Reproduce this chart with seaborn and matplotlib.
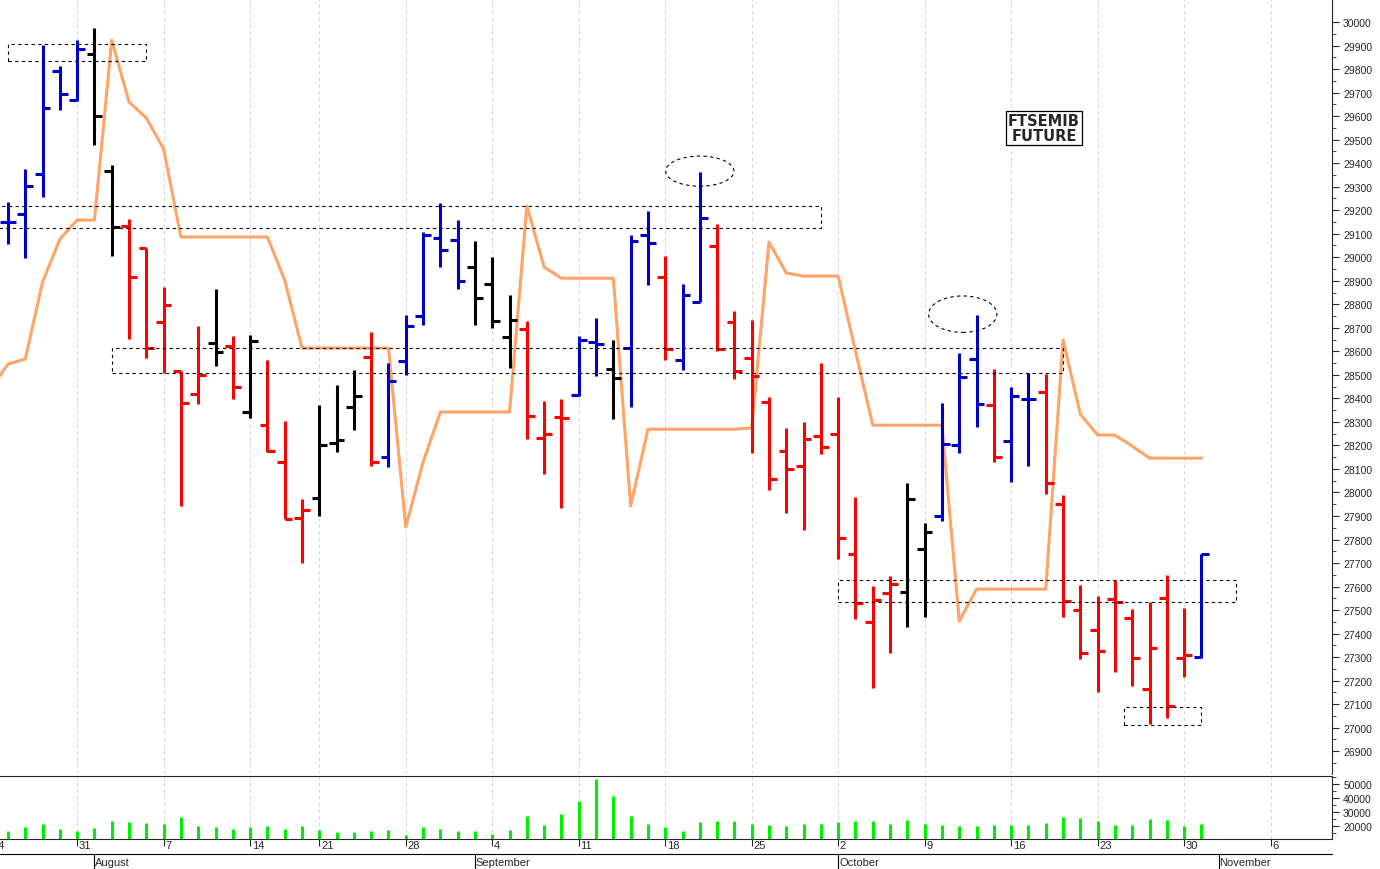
import numpy as np
import pandas as pd
import matplotlib
matplotlib.use("Agg")
import matplotlib.pyplot as plt
import seaborn as sns
from matplotlib.patches import Rectangle, Ellipse

# OHLC values (one bar per trading day, Jul 25 - Oct 31)
opens = [29150, 29184, 29354, 29792, 29668, 29864, 29366, 29133, 29039, 28724,
         28516, 28418, 28635, 28622, 28342, 28286, 28129, 27891, 27976, 28210,
         28363, 28576, 28150, 28559, 28750, 29082, 29073, 28958, 28886, 28661,
         28695, 28231, 28320, 28414, 28639, 28525, 28614, 29094, 28916, 28563,
         28809, 29048, 28724, 28571, 28384, 28176, 28112, 28240, 28248, 27738,
         27449, 27572, 27576, 27759, 27900, 28201, 28567, 28371, 28218, 28397,
         28427, 27951, 27500, 27415, 27547, 27466, 27164, 27551, 27296, 27300]
highs = [29235, 29375, 29902, 29813, 29923, 29974, 29392, 29162, 29039, 28873,
         28516, 28707, 28865, 28665, 28669, 28563, 28303, 27972, 28371, 28457,
         28520, 28682, 28550, 28754, 29107, 29230, 29158, 29069, 29001, 28839,
         28729, 28388, 28397, 28665, 28741, 28648, 29094, 29196, 29005, 28886,
         29362, 29141, 28771, 28733, 28406, 28274, 28299, 28550, 28406, 27980,
         27602, 27644, 28040, 27870, 28380, 28593, 28754, 28525, 28448, 28508,
         28503, 27989, 27606, 27559, 27627, 27504, 27534, 27649, 27508, 27738]
lows = [29056, 28997, 29256, 29626, 29664, 29477, 29005, 28652, 28571, 28508,
        27942, 28376, 28537, 28397, 28316, 28172, 27887, 27700, 27900, 28172,
        28265, 28112, 28108, 28499, 28712, 28958, 28865, 28712, 28699, 28529,
        28227, 28078, 27934, 28410, 28495, 28312, 28363, 28882, 28563, 28520,
        28809, 28601, 28482, 28167, 28010, 27912, 27840, 28163, 27717, 27462,
        27168, 27317, 27428, 27470, 27878, 28167, 28278, 28129, 28044, 28112,
        27993, 27470, 27291, 27151, 27236, 27177, 27015, 27041, 27215, 27296]
closes = [29150, 29303, 29634, 29694, 29885, 29600, 29128, 28916, 28614, 28797,
          28380, 28499, 28597, 28448, 28644, 28176, 27887, 27925, 28201, 28223,
          28410, 28129, 28474, 28707, 29094, 29031, 28899, 28826, 28729, 28733,
          28325, 28248, 28316, 28648, 28631, 28486, 29069, 29060, 28610, 28839,
          29167, 28610, 28516, 28495, 28057, 28099, 28227, 28193, 27806, 27530,
          27542, 27610, 27972, 27831, 28206, 28491, 28376, 28150, 28410, 28397,
          28040, 27538, 27317, 27325, 27534, 27296, 27338, 27092, 27308, 27738]
bar_colors = list("BBBBBKKRRRRRKRKRRRKKKRBBBBBKKKRRRBBKBBRBBRRRRRRRRRRRKKBBBRBBRRRRRRRRRB")

# orange indicator line (first value is the day before the first bar)
indicator = [28440, 28546, 28567, 28894, 29077, 29158, 29158, 29923, 29660, 29592,
             29460, 29086, 29086, 29086, 29086, 29086, 29086, 28903, 28614, 28614,
             28614, 28614, 28614, 28614, 27853, 28129, 28342, 28342, 28342, 28342,
             28342, 29218, 28958, 28911, 28911, 28911, 28911, 27942, 28269, 28269,
             28269, 28269, 28269, 28269, 28274, 29065, 28933, 28920, 28920, 28920,
             28601, 28286, 28286, 28286, 28286, 28286, 27453, 27589, 27589, 27589,
             27589, 27589, 28648, 28333, 28244, 28244, 28197, 28146, 28146, 28146,
             28146]

volume = [16400, 19300, 21400, 17900, 16400, 18600, 23600, 22800, 22100, 21400,
          26400, 20000, 19300, 17900, 19300, 20000, 17900, 20000, 17100, 15700,
          15700, 16400, 17100, 13600, 19300, 17900, 16400, 16400, 14300, 17100,
          27100, 20700, 28600, 37800, 53600, 41400, 27100, 21400, 19300, 16400,
          22800, 23600, 23600, 21400, 20700, 20000, 21400, 21400, 22800, 23600,
          23600, 21400, 24300, 21400, 20700, 20000, 20000, 20700, 20700, 20700,
          22100, 26400, 25700, 23600, 20700, 20700, 25000, 24300, 20000, 21400]

week_pos = [-1, 4, 9, 14, 18, 23, 28, 33, 38, 43, 48, 53, 58, 63, 68, 73]
week_labels = ["24", "31", "7", "14", "21", "28", "4", "11", "18", "25",
               "2", "9", "16", "23", "30", "6"]
month_pos = [5, 27, 48, 70]
month_labels = ["August", "September", "October", "November"]

price_ticks = list(range(26900, 30001, 100))
vol_ticks = [20000, 30000, 40000, 50000]

cmap = {"B": "#0000cc", "R": "#ff0000", "K": "#000000"}
df = pd.DataFrame({"day": np.arange(len(opens)), "open": opens, "high": highs,
                   "low": lows, "close": closes, "col": [cmap[c] for c in bar_colors],
                   "vol": volume})

sns.set_style("white")
plt.rcParams["font.family"] = ["Liberation Sans", "DejaVu Sans"]

fig = plt.figure(figsize=(13.8, 8.7), dpi=100)
W, H = 1380, 870
ax = fig.add_axes([0, 1 - 775 / H, 1332 / W, 775 / H])
axv = fig.add_axes([0, 30 / H, 1332 / W, 63 / H], sharex=ax)

xmin, xmax = -0.46, 76.55
for a in (ax, axv):
    for p in week_pos:
        a.axvline(p, color="#cccccc", lw=0.6, ls=(0, (4, 4)), zorder=0)

# orange line
ind = pd.DataFrame({"day": np.arange(-1, len(indicator) - 1), "v": indicator})
sns.lineplot(data=ind, x="day", y="v", ax=ax, color="#ffa366", lw=2.2, zorder=2)

# OHLC bars
tick = 0.45
ax.vlines(df["day"], df["low"], df["high"], colors=df["col"], lw=2.2, zorder=3)
ax.hlines(df["open"], df["day"] - tick, df["day"], colors=df["col"], lw=2.2, zorder=3)
ax.hlines(df["close"], df["day"], df["day"] + tick, colors=df["col"], lw=2.2, zorder=3)

# dashed boxes and ellipses
boxes = [(0, 29834, 8, 72), (-0.6, 29124, 47.6, 94), (6, 28507, 55, 107),
         (48, 27534, 23, 93), (64.5, 27010, 4.5, 77)]
for x0, y0, w, h in boxes:
    ax.add_patch(Rectangle((x0, y0), w, h, fill=False, ec="black", lw=0.8,
                           ls=(0, (3, 3)), zorder=4))
for cx, cy, w, h in [(40, 29366, 3.95, 128), (55.2, 28758, 3.95, 155)]:
    ax.add_patch(Ellipse((cx, cy), w, h, fill=False, ec="black", lw=0.8,
                         ls=(0, (3, 3)), zorder=4))

ax.text(59.9, 29550, "FTSEMIB\nFUTURE", ha="center", va="center", fontsize=10.5,
        fontweight="bold", family="DejaVu Sans", linespacing=1.0,
        bbox=dict(boxstyle="square,pad=0.15", fc="white", ec="black", lw=0.9))

ax.set_ylim(26803, 30098)
ax.yaxis.tick_right()
ax.set_yticks(price_ticks)
ax.set_yticklabels([str(t) for t in price_ticks], fontsize=7.5)
ax.set_yticks(np.arange(26850, 30050, 50), minor=True)
ax.tick_params(axis="y", which="major", length=5, pad=3, direction="out", right=True)
ax.tick_params(axis="y", which="minor", length=3, right=True)
ax.tick_params(axis="x", bottom=False, labelbottom=False)
for s in ["top", "left", "bottom"]:
    ax.spines[s].set_visible(False)
ax.spines["right"].set_linewidth(0.8)
ax.set_xlabel("")
ax.set_ylabel("")

# volume
axv.vlines(df["day"], 0, df["vol"], colors="#00ee00", lw=2.2)
axv.set_ylim(10700, 55700)
axv.yaxis.tick_right()
axv.set_yticks(vol_ticks)
axv.set_yticklabels([str(t) for t in vol_ticks], fontsize=7.5)
axv.set_yticks([15000, 25000, 35000, 45000, 55000], minor=True)
axv.tick_params(axis="y", which="major", length=5, pad=3, right=True)
axv.tick_params(axis="y", which="minor", length=3, right=True)
axv.set_xticks(week_pos)
axv.set_xticklabels([])
axv.tick_params(axis="x", bottom=True, length=5, direction="out")
axv.spines["left"].set_visible(False)
for s in ["top", "bottom", "right"]:
    axv.spines[s].set_linewidth(0.8)

ax.set_xlim(xmin, xmax)
axv.set_xlim(xmin, xmax)

for p, lab in zip(week_pos, week_labels):
    axv.text(p + 0.1, -0.01, lab, transform=axv.get_xaxis_transform(),
             ha="left", va="top", fontsize=8, clip_on=False)
for p, lab in zip(month_pos, month_labels):
    axv.text(p + 0.05, -0.28, lab, transform=axv.get_xaxis_transform(),
             ha="left", va="top", fontsize=8, clip_on=False)
    axv.plot([p, p], [-0.25, -0.5], transform=axv.get_xaxis_transform(),
             color="black", lw=0.8, clip_on=False)
axv.plot([xmin, xmax], [-0.24, -0.24], transform=axv.get_xaxis_transform(),
         color="black", lw=0.8, clip_on=False)

fig.savefig("out.png", dpi=100, facecolor="white")
